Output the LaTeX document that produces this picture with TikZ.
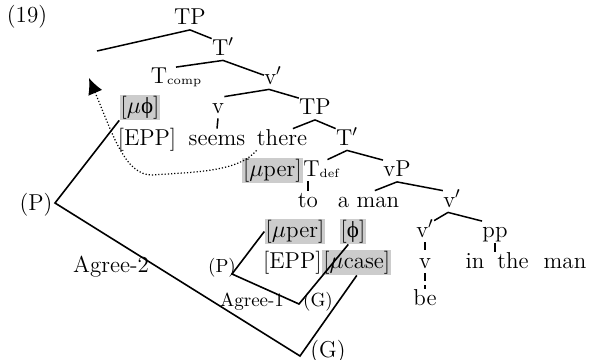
\documentclass[tikz,border=0pt]{standalone}
\usepackage{fontspec}
\newfontfamily\grkfont{Liberation Serif}
\usetikzlibrary{arrows.meta}
\tikzset{
  wd/.style={font=\fontsize{11.5}{13}\selectfont,inner sep=0pt,text height=8pt,text depth=2.5pt,anchor=base},
  feat/.style={wd,fill=black!20,text height=8.5pt,text depth=3pt,inner ysep=0.5pt,inner xsep=0.5pt},
  sm/.style={wd,font=\fontsize{9.5}{11}\selectfont},
  br/.style={line width=0.75pt},
  agr/.style={line width=0.8pt},
}
\newcommand{\lowsub}[1]{\raisebox{-0.5pt}{\fontsize{6}{7}\selectfont #1}}
\newcommand{\phig}{{\grkfont ϕ}}

\begin{document}
\begin{tikzpicture}[x=0.5pt,y=-0.5pt]
\useasboundingbox (0,0) rectangle (589,359);

\node (ex)[wd] at (27,22) {(19)};

% upper tree
\node (TP)[wd] at (190,24.5) {TP};
\node (Tbar)[wd] at (223,55) {T$'$};
\node (Tcomp)[wd] at (176,83.5) {T\lowsub{comp}};
\node (vbar)[wd] at (273,84) {v$'$};
\node (v)[wd] at (218,113) {v};
\node (TPlow)[wd] at (315,114.5) {TP};
\node (muphi)[feat] at (140,113) {[$\mu$\phig]};
\node (EPP)[wd] at (147,145) {[EPP]};
\node (seems)[wd] at (217,145) {seems};
\node (there)[wd] at (282,145) {there};
\node (Tbarlow)[wd] at (347,145) {T$'$};
\node (uper)[feat,anchor=base east] at (303,176) {[$\mu$per]};
\node (Tdef)[wd,anchor=base west] at (303,176) {T\lowsub{def}};
\node (vP)[wd] at (397,176.5) {vP};
\node (to)[wd] at (308,207) {to};
\node (aman)[wd] at (368.5,207) {a man};
\node (vbarA)[wd] at (452,207) {v$'$};

% lower part
\node (uperlow)[feat] at (295,237) {[$\mu$per]};
\node (phi)[feat] at (353,237) {[\phig]};
\node (vbarB)[wd] at (425,237) {v$'$};
\node (pp)[wd] at (495,237.5) {pp};
\node (EPPlow)[wd,anchor=base east] at (322,268) {[EPP]};
\node (ucase)[feat,anchor=base west] at (322,268) {[$\mu$case]};
\node (vlow)[wd] at (425,268) {v};
\node (in)[wd] at (475,268) {in};
\node (the)[wd] at (513,268) {the};
\node (man)[wd] at (565,268) {man};
\node (be)[wd] at (425,305) {be};

\coordinate (spec) at (97,51);
\coordinate (goal) at (89,78);
\coordinate (PtwoV) at (55,203);
\coordinate (GtwoV) at (300,356);
\coordinate (PoneV) at (232,274);
\coordinate (GoneV) at (299,304);

\node (Ptwo)[wd] at (36,210.5) {(P)};
\node (Gtwo)[wd] at (328,357.5) {(G)};
\node (Agtwo)[wd] at (111,272.5) {Agree-2};
\node (Pone)[sm] at (222,272) {(P)};
\node (Gone)[sm] at (318,306.5) {(G)};
\node (Agone)[sm] at (252,306.5) {Agree-1};

% branches
\draw[br] (TP.south) -- (spec);
\draw[br] (TP.south) -- (Tbar.north west);
\draw[br] (Tbar.south) -- (Tcomp.north);
\draw[br] (Tbar.south) -- (vbar.160);
\draw[br] (vbar.250) -- (v.north east);
\draw[br] (vbar.250) -- (TPlow.north west);
\draw[br] (v.south) -- (seems.north);
\draw[br] (TPlow.south) -- (there.45);
\draw[br] (TPlow.south) -- (Tbarlow.north west);
\draw[br] (Tbarlow.south) -- (Tdef.60);
\draw[br] (Tbarlow.south) -- (vP.north west);
\draw[br] (to.north) -- (to.north |- Tdef.south);
\draw[br] (vP.south) -- (aman.60);
\draw[br] (vP.south) -- (vbarA.north west);
\draw[br] (vbarA.250) -- (vbarB.north east);
\draw[br] (vbarA.250) -- (pp.north west);
\draw[br,dash pattern=on 4pt off 2pt] (vbarB.south) -- (vlow.north);
\draw[br,dash pattern=on 4pt off 2pt] (vlow.south) -- (be.north);
\draw[br] (pp.south) -- (pp.south |- the.north);

% movement
\draw[line width=0.6pt,densely dotted,-{Latex[length=8pt,width=7.5pt]}]
  (there.south west) .. controls (238,172) and (195,172) .. (152,175)
  .. controls (125,175) and (113,135) .. (goal);

% agree
\draw[agr] (muphi.south west) -- (PtwoV) -- (GtwoV) -- (ucase.south);
\draw[agr] (uperlow.west) -- (PoneV) -- (GoneV) -- (phi.250);
\end{tikzpicture}
\end{document}
